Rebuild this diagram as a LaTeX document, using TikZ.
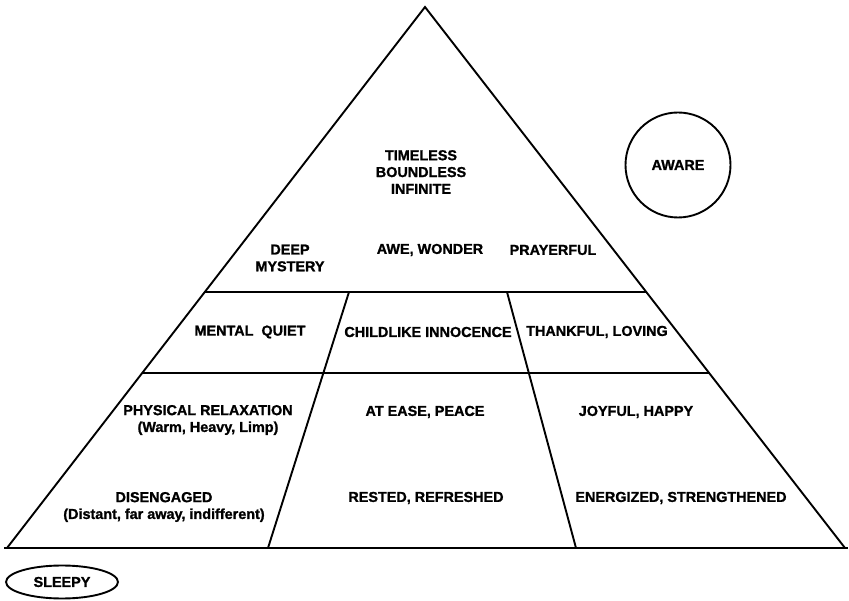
\documentclass[tikz,border=0pt]{standalone}
\usepackage{fontspec}
\setmainfont{Liberation Sans}
\newfontfamily\heavyfont{Liberation Sans Bold}[FakeBold=1.2]
\usetikzlibrary{shapes.geometric}
\begin{document}
\begin{tikzpicture}[x=1pt,y=-1pt,
  edge/.style={line width=1.9pt,line join=miter},
  lbl/.style={font=\heavyfont\fontsize{14.4}{16.8}\selectfont,align=center,inner sep=0pt,text=black}]
\useasboundingbox (0,0) rectangle (849,601);
% corners
\coordinate (apex) at (425,7);
\coordinate (bl) at (7,548);
\coordinate (br) at (845,548);
\coordinate (bl0) at (4,548);
\coordinate (br0) at (848,548);
\coordinate (h1l) at (204.8,292);
\coordinate (h1r) at (646.3,292);
\coordinate (h2l) at (142.2,373);
\coordinate (h2r) at (709.1,373);
\coordinate (d1t) at (349,292);
\coordinate (d1b) at (268,548);
\coordinate (d2t) at (507,292);
\coordinate (d2b) at (576,548);
% outline
\draw[edge] (bl) -- (apex) -- (br);
\draw[edge] (bl0) -- (br0);
\draw[edge] (h1l) -- (h1r);
\draw[edge] (h2l) -- (h2r);
\draw[edge] (d1t) -- (d1b);
\draw[edge] (d2t) -- (d2b);
% labels
\node[lbl] (t1) at (421,172) {TIMELESS\\BOUNDLESS\\INFINITE};
\node[lbl] (t2) at (290,258) {DEEP\\MYSTERY};
\node[lbl] (t3) at (430,250) {AWE, WONDER};
\node[lbl] (t4) at (553,250) {PRAYERFUL};
\node[lbl] (m1) at (250,332) {MENTAL\ \ QUIET};
\node[lbl] (m2) at (428,332) {CHILDLIKE INNOCENCE};
\node[lbl] (m3) at (597,332) {THANKFUL, LOVING};
\node[lbl] (b1) at (208,420) {PHYSICAL RELAXATION\\(Warm, Heavy, Limp)};
\node[lbl] (b2) at (425,412) {AT EASE, PEACE};
\node[lbl] (b3) at (636,412) {JOYFUL, HAPPY};
\node[lbl] (b4) at (164,507) {DISENGAGED\\(Distant, far away, indifferent)};
\node[lbl] (b5) at (426,498) {RESTED, REFRESHED};
\node[lbl] (b6) at (681,498) {ENERGIZED, STRENGTHENED};
% aware circle
\node[lbl,draw,circle,line width=1.9pt,minimum size=105pt] (aware) at (678,165) {AWARE};
% sleepy ellipse
\node[lbl,draw,ellipse,line width=1.9pt,minimum width=112pt,minimum height=33pt] (sleepy) at (62,582) {SLEEPY};
\end{tikzpicture}
\end{document}
